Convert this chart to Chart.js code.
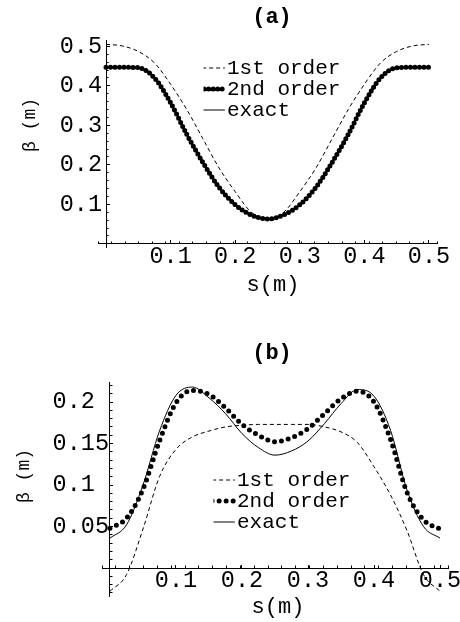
<!DOCTYPE html>
<html><head><meta charset="utf-8">
<script src="https://cdn.jsdelivr.net/npm/chart.js@4.4.1/dist/chart.umd.min.js"></script>
<style>
html,body{margin:0;padding:0;background:#fff;}
#wrap{position:relative;width:460px;height:622px;overflow:hidden;}
#ca{position:absolute;left:0;top:0;}
#cb{position:absolute;left:0;top:300px;}
</style></head><body>
<div id="wrap"><canvas id="ca" width="460" height="300"></canvas><canvas id="cb" width="460" height="322"></canvas></div>
<script>
// ---- data ----
const sValues = [0, 0.025, 0.05, 0.075, 0.1, 0.125, 0.15, 0.175, 0.2, 0.225, 0.25,
                 0.275, 0.3, 0.325, 0.35, 0.375, 0.4, 0.425, 0.45, 0.475, 0.5];
const seriesLabels = ['1st order', '2nd order', 'exact'];

const firstOrderA  = [0.505, 0.501, 0.487, 0.458, 0.404, 0.340, 0.266, 0.192, 0.132, 0.080, 0.065,
                      0.080, 0.132, 0.192, 0.266, 0.340, 0.404, 0.458, 0.487, 0.501, 0.505];
const secondOrderA = [0.447, 0.447, 0.446, 0.420, 0.357, 0.277, 0.206, 0.143, 0.099, 0.073, 0.063,
                      0.073, 0.099, 0.143, 0.206, 0.277, 0.357, 0.420, 0.446, 0.447, 0.447];
const exactA       = [0.447, 0.447, 0.446, 0.420, 0.357, 0.277, 0.206, 0.143, 0.099, 0.073, 0.063,
                      0.073, 0.099, 0.143, 0.206, 0.277, 0.357, 0.420, 0.446, 0.447, 0.447];

const firstOrderB  = [-0.028, -0.008, 0.047, 0.110, 0.143, 0.158, 0.165, 0.170, 0.172, 0.173, 0.173,
                      0.173, 0.173, 0.170, 0.164, 0.151, 0.122, 0.088, 0.045, -0.008, -0.028];
const secondOrderB = [0.048, 0.060, 0.095, 0.153, 0.199, 0.214, 0.209, 0.193, 0.173, 0.160, 0.152,
                      0.157, 0.168, 0.186, 0.204, 0.213, 0.200, 0.155, 0.091, 0.058, 0.047];
const exactB       = [0.036, 0.052, 0.100, 0.165, 0.208, 0.218, 0.205, 0.186, 0.162, 0.145, 0.136,
                      0.141, 0.153, 0.174, 0.198, 0.215, 0.207, 0.166, 0.094, 0.050, 0.036];

const xTickValues  = [0.1, 0.2, 0.3, 0.4, 0.5];
const xTickLabels  = ['0.1', '0.2', '0.3', '0.4', '0.5'];
const yTickValuesA = [0.1, 0.2, 0.3, 0.4, 0.5];
const yTickLabelsA = ['0.1', '0.2', '0.3', '0.4', '0.5'];
const yTickValuesB = [0.05, 0.1, 0.15, 0.2];
const yTickLabelsB = ['0.05', '0.1 ', '0.15', '0.2 '];
const panelTitles  = ['(a)', '(b)'];
const xAxisTitle   = 's(m)';
const yAxisTitle   = 'β (m)';

// ---- styling / layout ----
const MONO = "'Liberation Mono', 'DejaVu Sans Mono', monospace";
Chart.defaults.font.family = MONO;
Chart.defaults.color = '#000';
const TICK_FONT = 23.5, TITLE_FONT = 22, XT_FONT = 22, YT_FONT = 18, LEG_FONT = 21;

function zeroFit(s) {
  if (s.isHorizontal()) s.height = 0; else s.width = 0;
  s.paddingLeft = s.paddingRight = s.paddingTop = s.paddingBottom = 0;
}
function fixedTicks(vals) { return s => { s.ticks = vals.map(v => ({ value: v })); }; }

// axis line + major tick marks (crossing at the origin), optional labels
function mainScale(axis, pos, min, max, vals, labels, pad, showLabels) {
  return {
    type: 'linear', axis, position: pos, min, max,
    afterBuildTicks: fixedTicks(vals),
    afterFit: zeroFit,
    ticks: { display: showLabels, autoSkip: false, maxRotation: 0, minRotation: 0, padding: pad,
             font: { size: TICK_FONT, family: MONO }, color: '#000',
             callback: (v, i) => labels[i] },
    grid: { display: true, drawOnChartArea: false, drawTicks: true, tickLength: -4,
            color: '#000', lineWidth: 1 },
    border: { display: true, color: '#000', width: 1 }
  };
}
// y tick labels only
function labelScaleY(min, max, vals, labels) {
  return {
    type: 'linear', axis: 'y', position: 'left', min, max,
    afterBuildTicks: fixedTicks(vals),
    afterFit: zeroFit,
    ticks: { autoSkip: false, padding: 0, font: { size: TICK_FONT, family: MONO }, color: '#000',
             callback: (v, i) => labels[i] },
    grid: { display: false, drawTicks: false, drawOnChartArea: false },
    border: { display: false }
  };
}
function minorScale(axis, pos, min, max, step) {
  return {
    type: 'linear', axis, position: pos, min, max,
    afterBuildTicks: s => {
      const out = [];
      const n0 = Math.ceil(min / step - 1e-9), n1 = Math.floor(max / step + 1e-9);
      for (let k = n0; k <= n1; k++) out.push({ value: +(k * step).toFixed(6) });
      s.ticks = out;
    },
    afterFit: zeroFit,
    ticks: { display: false },
    grid: { display: true, drawOnChartArea: false, drawTicks: true, tickLength: -2.5,
            color: '#000', lineWidth: 1 },
    border: { display: false }
  };
}
function titleScale(axis, position, text, size) {
  return {
    type: 'linear', axis, position, display: true,
    afterFit: zeroFit,
    ticks: { display: false }, grid: { display: false }, border: { display: false },
    title: { display: true, text, color: '#000', padding: 0, align: 'center', font: { size, family: MONO } }
  };
}

function makePanel(id, p) {
  const styles = [
    { borderWidth: 1, borderDash: [4, 3], borderCapStyle: 'butt' },
    { borderWidth: 5, borderDash: [0, p.dotGap], borderCapStyle: 'round' },
    { borderWidth: 1, borderDash: [], borderCapStyle: 'butt' }
  ];
  const datasets = p.series.map((arr, k) => Object.assign({
    label: seriesLabels[k],
    data: sValues.map((s, i) => ({ x: s, y: arr[i] })),
    borderColor: '#000', backgroundColor: '#000',
    pointRadius: 0, pointHoverRadius: 0, fill: false,
    cubicInterpolationMode: 'monotone',
    xAxisID: 'x', yAxisID: 'y'
  }, styles[k]));

  const placer = {
    id: 'placer',
    afterLayout(chart) {
      const t = chart.titleBlock;
      if (t) {
        const lh = TITLE_FONT * 1.2;
        t.left = p.titlePos[0] - 100; t.right = p.titlePos[0] + 100; t.width = 200;
        t.top = p.titlePos[1] - lh / 2; t.bottom = t.top + lh; t.height = lh;
      }
      const xt = chart.scales.xt;
      xt.left = p.xTitlePos[0] - 120; xt.right = p.xTitlePos[0] + 120; xt.width = 240;
      xt.bottom = p.xTitlePos[1] + XT_FONT * 1.2 / 2; xt.top = xt.bottom;
      const yt = chart.scales.yt;
      yt.left = p.yTitlePos[0] - YT_FONT * 1.2 / 2; yt.right = yt.left;
      yt.top = p.yTitlePos[1] - 150; yt.bottom = p.yTitlePos[1] + 150; yt.height = 300;
      const yl = chart.scales.yl;
      yl.left = 0; yl.right = p.yLabelRight; yl.width = p.yLabelRight;
      const lg = chart.legend;
      if (lg) {
        lg.left = p.legendPos[0]; lg.top = p.legendPos[1];
        lg.width = 240; lg.height = 200;
        lg.right = lg.left + 240; lg.bottom = lg.top + 200;
      }
    }
  };

  return new Chart(document.getElementById(id), {
    type: 'line',
    data: { datasets },
    plugins: [placer],
    options: {
      responsive: false, animation: false, events: [], devicePixelRatio: 1,
      layout: { padding: p.pad },
      scales: {
        x: mainScale('x', { y: 0 }, p.xRange[0], p.xRange[1], xTickValues, xTickLabels, 3, true),
        y: mainScale('y', { x: 0 }, p.yRange[0], p.yRange[1], p.yTicks, p.yLabels, 0, false),
        xm: minorScale('x', { y: 0 }, 0, 0.5, p.xMinor),
        ym: minorScale('y', { x: 0 }, p.yRange[0], p.yRange[1], p.yMinor),
        yl: labelScaleY(p.yRange[0], p.yRange[1], p.yTicks, p.yLabels),
        xt: titleScale('x', 'bottom', xAxisTitle, XT_FONT),
        yt: titleScale('y', 'left', yAxisTitle, YT_FONT)
      },
      plugins: {
        title: { display: true, text: p.title, color: '#000', padding: 0,
                 font: { size: TITLE_FONT, weight: 'bold', family: MONO } },
        legend: {
          display: true, position: 'chartArea', align: 'start',
          labels: {
            usePointStyle: true, pointStyle: 'line', boxWidth: 13, boxHeight: LEG_FONT,
            padding: 0, color: '#000', font: { size: LEG_FONT, family: MONO },
            generateLabels: chart => Chart.defaults.plugins.legend.labels.generateLabels(chart).map(item => {
              const ds = chart.data.datasets[item.datasetIndex];
              return Object.assign(item, { lineDash: ds.borderDash, lineWidth: ds.borderWidth,
                lineCap: ds.borderCapStyle, strokeStyle: ds.borderColor, pointStyle: 'line' });
            })
          }
        },
        tooltip: { enabled: false }
      }
    }
  });
}

makePanel('ca', {
  title: panelTitles[0],
  series: [firstOrderA, secondOrderA, exactA],
  xRange: [-0.0124, 0.5124], yRange: [-0.008, 0.516],
  yTicks: yTickValuesA, yLabels: yTickLabelsA, yLabelRight: 102,
  xMinor: 0.02, yMinor: 0.02, dotGap: 4.5,
  pad: { left: 98, right: 23, top: 13.6, bottom: 53 },
  titlePos: [272, 17], xTitlePos: [273, 285], yTitlePos: [30, 125], legendPos: [203.5, 57.5]
});
makePanel('cb', {
  title: panelTitles[1],
  series: [firstOrderB, secondOrderB, exactB],
  xRange: [-0.0121, 0.5121], yRange: [-0.0337, 0.2241],
  yTicks: yTickValuesB, yLabels: yTickLabelsB, yLabelRight: 109,
  xMinor: 0.02, yMinor: 0.01, dotGap: 7,
  pad: { left: 102, right: 12, top: 55.6, bottom: 26 },
  titlePos: [272, 53], xTitlePos: [278, 307], yTitlePos: [24, 176], legendPos: [213.5, 169.5]
});
</script>
</body></html>
